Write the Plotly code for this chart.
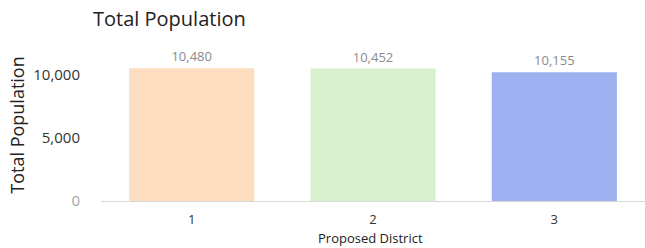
import plotly.graph_objects as go

districts = ["1", "2", "3"]
population = [10480, 10452, 10155]
bar_colors = ["#FDDDC0", "#D6F1CC", "#9DB0F0"]
y_tick_vals = [0, 5000, 10000]
y_tick_text = ["<span style='color:#a8a8a8'>0</span>", "5,000", "10,000"]

fig = go.Figure(
    go.Bar(
        x=districts,
        y=population,
        marker=dict(color=bar_colors, line=dict(width=0)),
        text=[f"{v:,}" for v in population],
        textposition="outside",
        textfont=dict(size=13, color="#8a8a8a", family="Open Sans"),
        cliponaxis=False,
    )
)

fig.update_layout(
    width=645,
    height=248,
    margin=dict(l=101, r=0, t=49, b=47),
    paper_bgcolor="white",
    plot_bgcolor="white",
    bargap=0.31,
    showlegend=False,
    title=dict(
        text="Total Population",
        x=93 / 645,
        xanchor="left",
        y=1 - 19 / 248,
        yanchor="middle",
        font=dict(size=20, color="#222222", family="Open Sans"),
    ),
    font=dict(family="Open Sans", color="#333333"),
    annotations=[
        dict(
            text="Proposed District",
            xref="paper",
            yref="paper",
            x=0.495,
            y=-47 / 152,
            xanchor="center",
            yanchor="bottom",
            showarrow=False,
            font=dict(size=13, color="#222222"),
            borderpad=0,
        )
    ],
)

fig.update_xaxes(
    type="category",
    range=[-0.5, 2.5],
    showgrid=False,
    showline=False,
    ticks="",
    automargin=False,
    ticklabelstandoff=9,
    tickfont=dict(size=13, color="#333333"),
)

fig.update_yaxes(
    range=[0, 12000],
    tickvals=y_tick_vals,
    ticktext=y_tick_text,
    showgrid=False,
    zeroline=True,
    zerolinecolor="#d9d9d9",
    zerolinewidth=1,
    showline=False,
    ticks="",
    automargin=False,
    ticklabelstandoff=20,
    tickfont=dict(size=15, color="#333333"),
    title=dict(text="Total Population", font=dict(size=18, color="#222222"), standoff=3),
)

fig.write_html(
    "out.html",
    config={"displayModeBar": False},
    post_script="document.body.style.margin='0';",
)
